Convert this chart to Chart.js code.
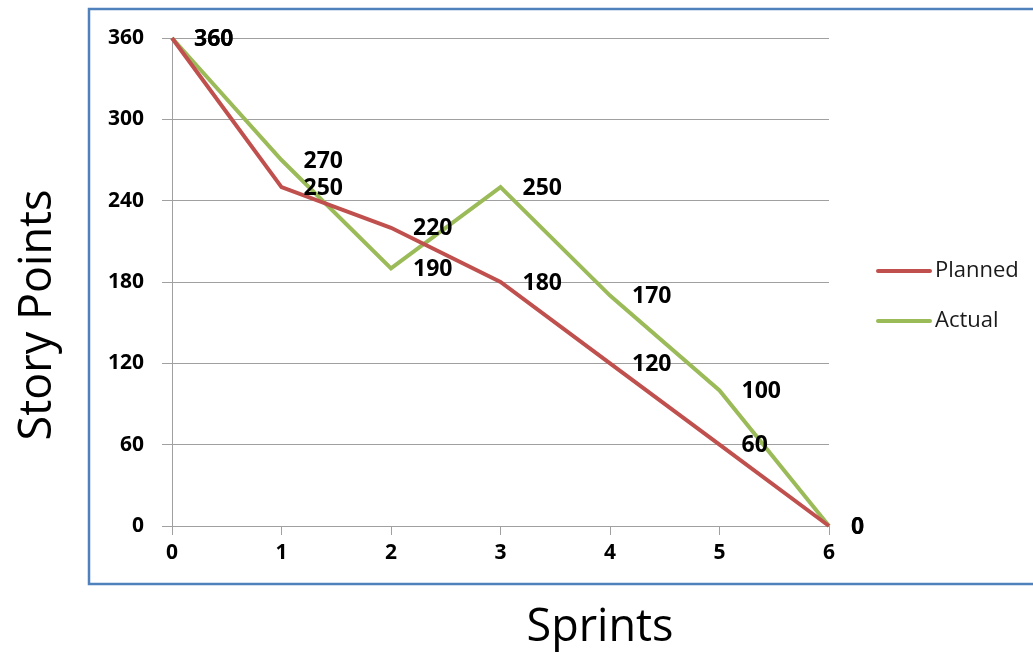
<!DOCTYPE html>
<html>
<head>
<meta charset="utf-8">
<script src="https://cdn.jsdelivr.net/npm/chart.js@4"></script>
<style>
  html, body { margin: 0; padding: 0; background: #fff; }
  #wrap { width: 1033px; height: 653px; position: relative; }
</style>
</head>
<body>
<div id="wrap"><canvas id="burndownChart"></canvas></div>
<script>
// Chart data
const sprints = ['0', '1', '2', '3', '4', '5', '6'];
const planned = [360, 250, 220, 180, 120, 60, 0];
const actual = [360, 270, 190, 250, 170, 100, 0];
const yTicks = [0, 60, 120, 180, 240, 300, 360];

const FONT = "'Open Sans', 'DejaVu Sans', sans-serif";

// Frame, axis titles, legend and point labels
const decorations = {
  id: 'decorations',
  beforeDraw(chart) {
    const ctx = chart.ctx;
    ctx.save();
    ctx.strokeStyle = '#4f81bd';
    ctx.lineWidth = 2.5;
    ctx.strokeRect(89, 9, 1000, 575);
    ctx.restore();
  },
  afterDatasetsDraw(chart) {
    const ctx = chart.ctx;
    ctx.save();
    ctx.font = 'bold 23px ' + FONT;
    ctx.fillStyle = '#000';
    ctx.textAlign = 'left';
    ctx.textBaseline = 'middle';
    chart.data.datasets.forEach((ds, i) => {
      const meta = chart.getDatasetMeta(i);
      meta.data.forEach((pt, j) => {
        ctx.fillText(String(ds.data[j]), pt.x + 22, pt.y + 1);
      });
    });
    ctx.restore();
  },
  afterDraw(chart) {
    const ctx = chart.ctx;
    ctx.save();
    // axis titles
    ctx.fillStyle = '#000';
    ctx.font = '45px ' + FONT;
    ctx.textAlign = 'center';
    ctx.textBaseline = 'middle';
    ctx.fillText('Sprints', 600, 628);
    ctx.translate(38, 315);
    ctx.rotate(-Math.PI / 2);
    ctx.fillText('Story Points', 0, 0);
    ctx.restore();

    // legend
    ctx.save();
    ctx.font = '22px ' + FONT;
    ctx.textAlign = 'left';
    ctx.textBaseline = 'middle';
    chart.data.datasets.forEach((ds, i) => {
      const y = 271 + i * 50;
      ctx.strokeStyle = ds.borderColor;
      ctx.lineWidth = 4;
      ctx.lineCap = 'round';
      ctx.beginPath();
      ctx.moveTo(878, y);
      ctx.lineTo(930, y);
      ctx.stroke();
      ctx.fillStyle = '#1a1a1a';
      ctx.fillText(ds.label, 935, y);
    });
    ctx.restore();
  }
};

const ctx = document.getElementById('burndownChart');
new Chart(ctx, {
  type: 'line',
  data: {
    labels: sprints,
    datasets: [
      {
        label: 'Planned',
        data: planned,
        borderColor: '#c0504d',
        borderWidth: 4,
        pointRadius: 0,
        tension: 0,
        clip: false
      },
      {
        label: 'Actual',
        data: actual,
        borderColor: '#9bbb59',
        borderWidth: 4,
        pointRadius: 0,
        tension: 0,
        clip: false
      }
    ]
  },
  options: {
    responsive: true,
    maintainAspectRatio: false,
    animation: false,
    layout: { padding: { top: 38, right: 204, bottom: 0, left: 0 } },
    plugins: {
      legend: { display: false },
      tooltip: { enabled: false }
    },
    scales: {
      x: {
        type: 'category',
        offset: false,
        grid: {
          drawOnChartArea: false,
          drawTicks: true,
          tickLength: 9,
          color: '#a0a0a0'
        },
        border: { display: true, color: '#a0a0a0', width: 1 },
        ticks: {
          color: '#000',
          padding: 5,
          maxRotation: 0,
          font: { family: FONT, size: 21, weight: 'bold' }
        },
        afterFit(scale) { scale.height = 127; }
      },
      y: {
        min: 0,
        max: 360,
        afterBuildTicks(scale) { scale.ticks = yTicks.map(v => ({ value: v })); },
        grid: {
          color: '#a0a0a0',
          tickLength: 10,
          drawTicks: true
        },
        border: { display: true, color: '#a0a0a0', width: 1 },
        ticks: {
          color: '#000',
          padding: 18,
          font: { family: FONT, size: 21, weight: 'bold' }
        },
        afterFit(scale) { scale.width = 172; }
      }
    }
  },
  plugins: [decorations]
});
</script>
</body>
</html>
